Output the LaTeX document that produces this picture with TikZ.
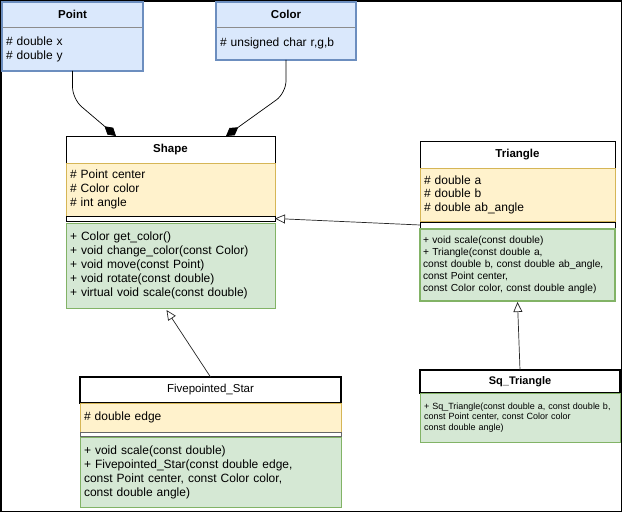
\documentclass[tikz,border=0pt]{standalone}
\usepackage{fontspec}
\setmainfont{Liberation Sans}
\usetikzlibrary{arrows.meta,calc}
\definecolor{bfill}{HTML}{DAE8FC}
\definecolor{bstroke}{HTML}{6C8EBF}
\definecolor{yfill}{HTML}{FFF2CC}
\definecolor{ystroke}{HTML}{D6B656}
\definecolor{gfill}{HTML}{D5E8D4}
\definecolor{gstroke}{HTML}{82B366}
\definecolor{divgray}{HTML}{8C8C8C}
\begin{document}
\begin{tikzpicture}[x=1pt,y=-1pt,
  cell/.style={rectangle, anchor=north west, inner xsep=4pt, inner ysep=0pt, outer sep=0pt, align=left, font=\fontsize{12}{14}\selectfont},
  hdr/.style={cell, align=center, fill=white, draw=black, line width=0.8pt, font=\fontsize{11.5}{14}\selectfont},
  bluecell/.style={cell, fill=bfill},
  attr/.style={cell, fill=yfill, draw=ystroke, line width=0.8pt},
  meth/.style={cell, fill=gfill, draw=gstroke, line width=0.8pt},
  sep/.style={cell, fill=white, draw=black, line width=0.8pt},
  inh/.style={draw=black!85, line width=0.7pt, -{Triangle[open, length=10pt, width=9pt, fill=white]}},
  comp/.style={draw=black, line width=0.7pt, rounded corners=12pt, -{Diamond[length=15pt, width=9pt, fill=black]}}
]
\useasboundingbox (0,0) rectangle (623,513);
\draw[line width=1.5pt] (1,1) rectangle (621.5,511.5);

% Point
\node[bluecell, minimum width=141, minimum height=25, align=center, font=\fontsize{11.5}{14}\selectfont] (pointH) at (2,2) {\bfseries Point};
\node[bluecell, minimum width=141, minimum height=44, text width=133] (pointA) at (2,27) {\# double x\\\# double y};
\draw[divgray, line width=0.8pt] (pointH.south west) -- (pointH.south east);
\draw[bstroke, line width=1.6pt] (pointH.north west) rectangle (pointA.south east);

% Color
\node[bluecell, minimum width=140, minimum height=25, align=center, font=\fontsize{11.5}{14}\selectfont] (colorH) at (216,2) {\bfseries Color};
\node[bluecell, minimum width=140, minimum height=33, text width=132] (colorA) at (216,27) {\# unsigned char r,g,b};
\draw[divgray, line width=0.8pt] (colorH.south west) -- (colorH.south east);
\draw[bstroke, line width=1.6pt] (colorH.north west) rectangle (colorA.south east);

% Shape
\node[hdr, minimum width=209, minimum height=27] (shapeH) at (66,136) {\bfseries Shape};
\node[attr, minimum width=209, minimum height=53, text width=201] (shapeA) at (66,163) {\# Point center\\\# Color color\\\# int angle};
\node[sep, minimum width=209, minimum height=5] (shapeS) at (66,216) {};
\node[meth, minimum width=209, minimum height=85, text width=201] (shapeM) at (66,223) {+ Color get\_color()\\+ void change\_color(const Color)\\+ void move(const Point)\\+ void rotate(const double)\\+ virtual void scale(const double)};

% Triangle
\node[hdr, minimum width=195, minimum height=27] (triH) at (420,141) {\bfseries Triangle};
\node[attr, minimum width=195, minimum height=53, text width=187, font=\fontsize{12}{13.5}\selectfont] (triA) at (420,168) {\# double a\\\# double b\\\# double ab\_angle};
\node[sep, minimum width=195, minimum height=6] (triS) at (420,222) {};
\node[meth, line width=1.6pt, inner xsep=3pt, minimum width=195, minimum height=72, text width=189, font=\fontsize{10.2}{12}\selectfont] (triM) at (420,229) {\mbox{+ void scale(const double)}\\\mbox{+ Triangle(const double a,}\\\mbox{const double b, const double ab\_angle,}\\\mbox{const Point center,}\\\mbox{const Color color, const double angle)}};

% Sq_Triangle
\node[hdr, line width=1.6pt, minimum width=200, minimum height=23, font=\fontsize{11}{13}\selectfont] (sqH) at (420,370) {\bfseries Sq\_Triangle};
\node[meth, minimum width=200, minimum height=49, text width=192, font=\fontsize{9}{10.8}\selectfont] (sqM) at (420,393) {\mbox{+ Sq\_Triangle(const double a, const double b,}\\\mbox{const Point center, const Color color}\\\mbox{const double angle)}};

% Fivepointed_Star
\node[hdr, line width=1.6pt, minimum width=261, minimum height=26] (starH) at (80,377) {Fivepointed\_Star};
\node[attr, minimum width=261, minimum height=29, text width=253] (starA) at (80,403) {\# double edge};
\node[sep, draw=black!60, minimum width=261, minimum height=4] (starS) at (80,432.5) {};
\node[meth, minimum width=261, minimum height=70, text width=253] (starM) at (80,437) {+ void scale(const double)\\+ Fivepointed\_Star(const double edge,\\const Point center, const Color color,\\const double angle)};

% connectors
\draw[comp] (pointA.south) -- ++(0,28) -- ($(shapeH.north west)+(50,0)$);
\draw[comp] (colorA.south) -- ++(0,33) -- ($(shapeH.north west)+(160,0)$);
\draw[inh] (triS.west) -- (shapeS.east);
\draw[inh] (starH.north) -- ($(shapeM.south)+(-4,2)$);
\draw[inh] (sqH.north) -- ($(triM.south)+(0,1)$);
\end{tikzpicture}
\end{document}
